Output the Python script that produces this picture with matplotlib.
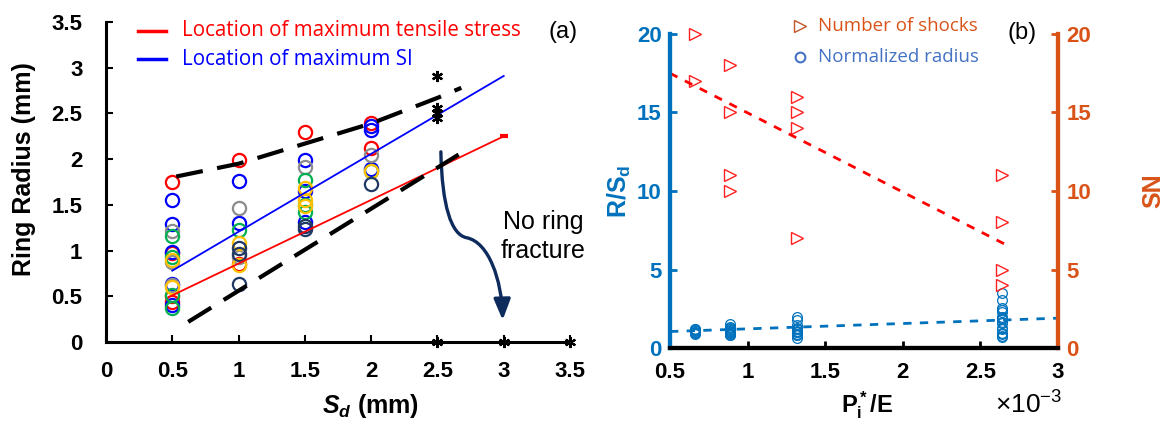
import matplotlib
matplotlib.use("Agg")
import matplotlib.pyplot as plt
from matplotlib.path import Path
from matplotlib.patches import FancyArrowPatch

plt.rcParams["font.family"] = ["Liberation Sans", "DejaVu Sans"]
plt.rcParams["mathtext.fontset"] = "custom"
plt.rcParams["mathtext.rm"] = "Liberation Sans"
plt.rcParams["mathtext.it"] = "Liberation Sans:italic:bold"
plt.rcParams["mathtext.bf"] = "Liberation Sans:bold"

# ---- panel (a): ring radius vs S_d, grouped by marker colour ----
red_x = [0.5, 0.5, 0.5, 0.5, 1, 1, 1.5, 2, 2]
red_y = [1.75, 0.97, 0.50, 0.44, 1.99, 0.85, 2.30, 2.40, 2.12]
blue_x = [0.5, 0.5, 0.5, 0.5, 0.5, 1, 1, 1.5, 1.5, 1.5, 2, 2, 2]
blue_y = [1.55, 1.29, 0.98, 0.63, 0.40, 1.76, 1.30, 1.99, 1.65, 1.31, 2.36, 2.32, 1.89]
gray_x = [0.5, 0.5, 0.5, 1, 1, 1.5, 2]
gray_y = [1.21, 0.88, 0.62, 1.47, 0.93, 1.91, 2.05]
green_x = [0.5, 0.5, 0.5, 0.5, 1, 1.5, 1.5, 1.5, 2]
green_y = [1.16, 0.93, 0.51, 0.37, 1.22, 1.77, 1.50, 1.42, 1.87]
yellow_x = [0.5, 0.5, 1, 1, 1.5, 1.5, 1.5, 2]
yellow_y = [0.90, 0.60, 1.08, 0.84, 1.68, 1.55, 1.49, 1.87]
navy_x = [1, 1, 1, 1.5, 1.5, 2]
navy_y = [1.03, 0.96, 0.63, 1.27, 1.24, 1.73]

stress_x = [0.5, 3.0]
stress_y = [0.51, 2.25]
si_x = [0.5, 3.0]
si_y = [0.78, 2.91]
upper_x = [0.53, 1.0, 1.5, 2.0, 2.5, 2.68]
upper_y = [1.81, 1.95, 2.17, 2.39, 2.67, 2.78]
lower_x = [0.62, 2.66]
lower_y = [0.22, 2.05]

star_x = [2.5, 2.5, 2.5, 2.5, 2.5, 3.0, 3.5]
star_y = [2.91, 2.56, 2.50, 2.45, 0.0, 0.0, 0.0]

# ---- panel (b): shocks and normalized radius vs P_i*/E (x1e-3) ----
shock_x = [0.66, 0.66, 0.885, 0.885, 0.885, 0.885, 1.32, 1.32, 1.32, 1.32,
           2.64, 2.64, 2.64, 2.64]
shock_n = [20, 17, 18, 15, 11, 10, 16, 15, 14, 7, 11, 8, 5, 4]
norm_x = ([0.66] * 8 + [0.885] * 13 + [1.32] * 12 + [2.64] * 16)
norm_r = [1.20, 1.18, 1.16, 1.07, 1.02, 0.95, 0.94, 0.87,
          1.53, 1.33, 1.27, 1.18, 1.12, 1.10, 1.03, 1.00, 0.99, 0.95, 0.87, 0.85, 0.83,
          1.99, 1.77, 1.47, 1.29, 1.22, 1.08, 1.03, 1.00, 0.92, 0.85, 0.83, 0.64,
          3.48, 3.08, 2.56, 2.44, 2.30, 1.96, 1.90, 1.84, 1.68, 1.60, 1.28, 1.18,
          0.98, 0.88, 0.78, 0.70]
shock_fit_x = [0.5, 2.7]
shock_fit_y = [17.5, 6.4]
radius_fit_x = [0.5, 3.0]
radius_fit_y = [1.05, 1.9]

NAVY = "#0d2b5c"
MBLUE = "#0072bd"
MORANGE = "#d95319"

fig = plt.figure(figsize=(11.69, 4.24), dpi=100)

# ================= (a) =================
ax1 = fig.add_axes([106 / 1169, 82 / 424, 464 / 1169, 320 / 424])
groups = [(red_x, red_y, "#ff0000"), (blue_x, blue_y, "#0000ff"),
          (gray_x, gray_y, "#8c8c8c"), (green_x, green_y, "#00b050"),
          (yellow_x, yellow_y, "#ffc000"), (navy_x, navy_y, "#1f3864")]
for gx, gy, c in groups:
    ax1.plot(gx, gy, "o", ms=9.5, mfc="none", mec=c, mew=1.6, clip_on=False)

ax1.plot(stress_x, stress_y, color="#ff0000", lw=1.3)
ax1.plot(stress_x[-1:], stress_y[-1:], "_", color="#ff0000", ms=6, mew=3)
ax1.plot(si_x, si_y, color="#0000ff", lw=1.3)
for lx, ly in [(upper_x, upper_y), (lower_x, lower_y)]:
    ln, = ax1.plot(lx, ly, color="black", lw=3)
    ln.set_dashes([6.5, 3.5])
    ln.set_dash_capstyle("butt")

ax1.plot(star_x, star_y, ls="none", marker=(6, 2, 0), ms=8, mec="black",
         mew=1.6, clip_on=False, zorder=5)

verts = [(2.526, 2.08), (2.534, 1.50), (2.602, 1.17), (2.722, 1.14),
         (2.887, 1.09), (2.985, 0.68), (2.992, 0.24)]
codes = [Path.MOVETO] + [Path.CURVE4] * 6
arrow = FancyArrowPatch(path=Path(verts, codes), arrowstyle="-|>,head_length=0.7,head_width=0.28",
                        mutation_scale=18, color=NAVY, lw=2.4)
ax1.add_patch(arrow)
ax1.text(3.3, 1.15, "No ring\nfracture", fontsize=18, ha="center", va="center",
         linespacing=1.25)

ax1.set_xlim(0, 3.5)
ax1.set_ylim(0, 3.5)
ax1.set_xticks([0, 0.5, 1, 1.5, 2, 2.5, 3, 3.5])
ax1.set_xticklabels(["0", "0.5", "1", "1.5", "2", "2.5", "3", "3.5"])
ax1.set_yticks([0, 0.5, 1, 1.5, 2, 2.5, 3, 3.5])
ax1.set_yticklabels(["0", "0.5", "1", "1.5", "2", "2.5", "3", "3.5"])
for s in ["top", "right"]:
    ax1.spines[s].set_visible(False)
for s in ["left", "bottom"]:
    ax1.spines[s].set_linewidth(2.2)
ax1.tick_params(direction="in", length=5, width=1.5, labelsize=16)
ax1.tick_params(axis="y", pad=17)
ax1.tick_params(axis="x", pad=14)
for lab in ax1.get_xticklabels() + ax1.get_yticklabels():
    lab.set_fontweight("bold")
ax1.set_ylabel("Ring Radius (mm)", fontsize=18, fontweight="bold")
ax1.yaxis.set_label_coords(-0.15, 0.54)
ax1.set_xlabel(r"$S_d$ (mm)", fontsize=18, fontweight="bold")
ax1.xaxis.set_label_coords(0.569, -0.155)

# legend (a)
for yy, c, txt in [(0.972, "#ff0000", "Location of maximum tensile stress"),
                   (0.884, "#0000ff", "Location of maximum SI")]:
    ax1.plot([0.069, 0.129], [yy, yy], color=c, lw=2.5, transform=ax1.transAxes, clip_on=False)
    ax1.text(0.164, yy, txt, color=c, fontsize=14.8, family="Open Sans",
             va="center", ha="left", transform=ax1.transAxes)
ax1.text(0.985, 0.969, "(a)", fontsize=17, ha="center", va="center", transform=ax1.transAxes)

# ================= (b) =================
ax2 = fig.add_axes([670 / 1169, 76 / 424, 388 / 1169, 314 / 424])
ax2r = ax2.twinx()

ax2.plot(norm_x, norm_r, "o", ms=7, mfc="none", mec=MBLUE, mew=0.9)
ln, = ax2.plot(radius_fit_x, radius_fit_y, color=MBLUE, lw=2)
ln.set_dashes([3, 3])
ax2r.plot(shock_x, shock_n, ">", ms=8.5, mfc="none", mec="#ff2020", mew=1.0, clip_on=False)
ln, = ax2r.plot(shock_fit_x, shock_fit_y, color="#ff0000", lw=2)
ln.set_dashes([3, 3])

for a in (ax2, ax2r):
    a.set_xlim(0.5, 3)
    a.set_ylim(0, 20)
    a.spines["top"].set_visible(False)
    for s in ["left", "right", "bottom"]:
        a.spines[s].set_linewidth(3)
    a.spines["left"].set_color(MBLUE)
    a.spines["right"].set_color(MORANGE)
    a.spines["bottom"].set_color("black")

ax2.set_xticks([0.5, 1, 1.5, 2, 2.5, 3])
ax2.set_xticklabels(["0.5", "1", "1.5", "2", "2.5", "3"])
ax2.set_yticks([0, 5, 10, 15, 20])
ax2r.set_yticks([0, 5, 10, 15, 20])
ax2.tick_params(axis="x", direction="in", length=5, width=2, labelsize=16, pad=10, colors="black")
ax2.tick_params(axis="y", direction="in", length=5, width=2, labelsize=16, pad=6,
                colors=MBLUE)
ax2r.tick_params(axis="y", direction="in", length=5, width=2, labelsize=16, pad=6,
                 colors=MORANGE)
for lab in ax2.get_xticklabels() + ax2.get_yticklabels() + ax2r.get_yticklabels():
    lab.set_fontweight("bold")

ax2.set_ylabel(r"$\mathbf{R/S_d}$", fontsize=18, color=MBLUE)
ax2.yaxis.set_label_coords(-0.095, 0.50)
ax2r.set_ylabel("SN", fontsize=18, fontweight="bold", color=MORANGE, rotation=90)
ax2r.yaxis.set_label_coords(1.215, 0.50)
ax2.set_xlabel(r"$\mathbf{P_i^*/E}$", fontsize=17)
ax2.xaxis.set_label_coords(0.508, -0.13)
ax2.text(1.01, -0.18, r"$\times\mathregular{10^{-3}}$", fontsize=19, ha="right",
         va="center", transform=ax2.transAxes)

# legend (b)
ax2.plot([0.335], [1.025], ">", ms=8.5, mfc="none", mec="#c0562a", mew=1.0,
         transform=ax2.transAxes, clip_on=False)
ax2.text(0.381, 1.025, "Number of shocks", color=MORANGE, fontsize=13.5, family="Open Sans",
         va="center", ha="left", transform=ax2.transAxes)
ax2.plot([0.335], [0.927], "o", ms=7, mfc="none", mec="#4472c4", mew=1.5,
         transform=ax2.transAxes, clip_on=False)
ax2.text(0.381, 0.927, "Normalized radius", color="#4472c4", fontsize=13.5, family="Open Sans",
         va="center", ha="left", transform=ax2.transAxes)
ax2.text(0.907, 1.003, "(b)", fontsize=17, ha="center", va="center", transform=ax2.transAxes)

fig.savefig("out.png", dpi=100)
